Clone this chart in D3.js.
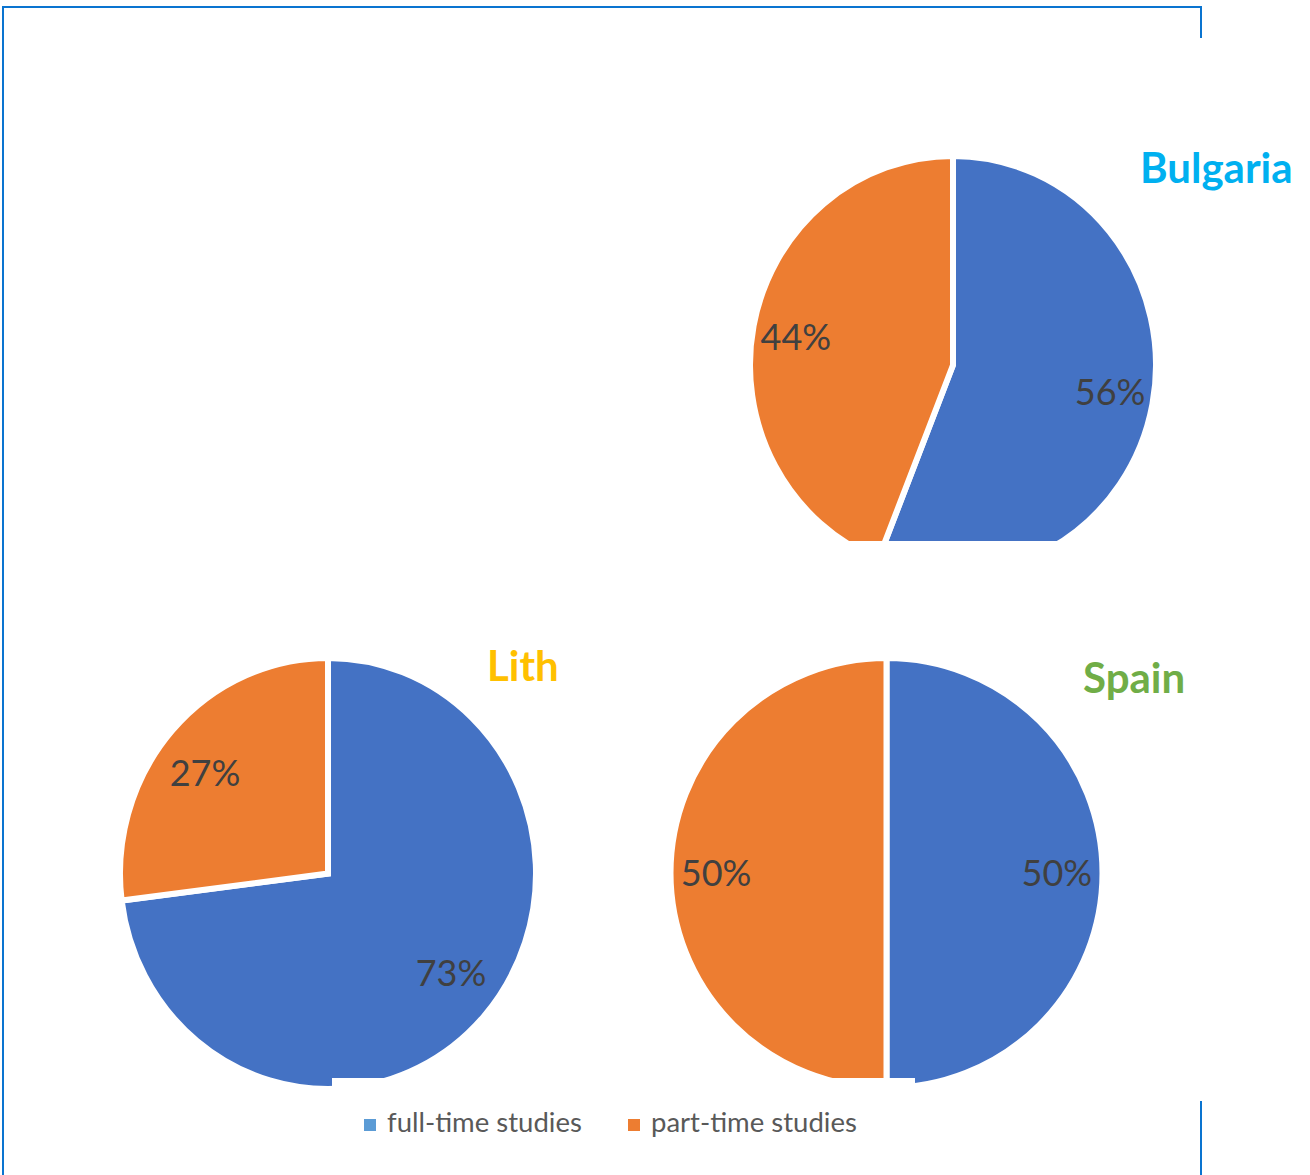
<!DOCTYPE html>
<html>
<head>
<meta charset="utf-8">
<script src="https://cdn.jsdelivr.net/npm/d3@7"></script>
<style>
  body { margin: 0; background: #fff; }
  text { font-family: Lato, "Open Sans", sans-serif; }
</style>
</head>
<body>
<svg width="1310" height="1175"></svg>
<script>
var countries = ["Bulgaria", "Lith", "Spain"];
var fullTime = [56, 73, 50];
var partTime = [44, 27, 50];
var seriesNames = ["full-time studies", "part-time studies"];

var svg = d3.select("svg");

var color = ["#4472C4", "#ED7D31"];
var legendColor = ["#5B9BD5", "#ED7D31"];
var titleColor = ["#00B0F0", "#FFC000", "#70AD47"];

// where each pie sits on the page, plus its title anchor
var place = [
  {cx: 953, cy: 365, rx: 200, ry: 206, tx: 1140, ty: 183},
  {cx: 328, cy: 873.5, rx: 205, ry: 212.5, tx: 487, ty: 681},
  {cx: 886.5, cy: 873, rx: 213, ry: 212, tx: 1083, ty: 693}
];

// frame lines
var frame = svg.append("g")
    .attr("stroke", "#0a74d0")
    .attr("stroke-width", 2);
frame.append("line").attr("x1", 2).attr("y1", 7).attr("x2", 1202).attr("y2", 7);
frame.append("line").attr("x1", 3).attr("y1", 7).attr("x2", 3).attr("y2", 1175);
frame.append("line").attr("x1", 1201).attr("y1", 7).attr("x2", 1201).attr("y2", 38);
frame.append("line").attr("x1", 1201).attr("y1", 1101).attr("x2", 1201).attr("y2", 1175);

var pie = d3.pie().sort(null).startAngle(0).endAngle(2 * Math.PI);

countries.forEach(function(name, i) {
  var p = place[i];
  var slices = pie([fullTime[i], partTime[i]]);
  var k = p.ry / p.rx;

  var arc = d3.arc().innerRadius(0).outerRadius(p.rx + 3);
  var labelArc = d3.arc().innerRadius(p.rx * 0.8).outerRadius(p.rx * 0.8);

  var g = svg.append("g")
      .attr("transform", "translate(" + p.cx + "," + p.cy + ")");

  g.append("g")
      .attr("transform", "scale(1," + k + ")")
    .selectAll("path")
    .data(slices)
    .enter().append("path")
      .attr("d", arc)
      .attr("fill", function(d, j) { return color[j]; })
      .attr("stroke", "#fff")
      .attr("stroke-width", 6)
      .attr("stroke-linejoin", "miter")
      .attr("vector-effect", "non-scaling-stroke");

  g.selectAll("text.pct")
    .data(slices)
    .enter().append("text")
      .attr("class", "pct")
      .attr("x", function(d) { return labelArc.centroid(d)[0]; })
      .attr("y", function(d) { return labelArc.centroid(d)[1] * 0.92; })
      .attr("dy", "0.35em")
      .attr("text-anchor", "middle")
      .attr("fill", "#404040")
      .style("font-size", "36px")
      .text(function(d) { return d.value + "%"; });

  svg.append("text")
      .attr("x", p.tx)
      .attr("y", p.ty)
      .attr("fill", titleColor[i])
      .style("font-size", "42px")
      .style("font-weight", "bold")
      .text(name);
});

// the picture is cut off below the pies
svg.append("rect").attr("x", 740).attr("y", 541).attr("width", 430).attr("height", 60).attr("fill", "#fff");
svg.append("rect").attr("x", 332).attr("y", 1078).attr("width", 583).attr("height", 22).attr("fill", "#fff");

// legend
var legend = svg.append("g").selectAll("g")
    .data(seriesNames)
    .enter().append("g")
    .attr("transform", function(d, i) { return "translate(" + [364, 628][i] + ",1119)"; });

legend.append("rect")
    .attr("width", 12)
    .attr("height", 12)
    .attr("fill", function(d, i) { return legendColor[i]; });

legend.append("text")
    .attr("x", 23)
    .attr("y", 13)
    .attr("fill", "#595959")
    .style("font-size", "27.5px")
    .text(function(d) { return d; });
</script>
</body>
</html>
